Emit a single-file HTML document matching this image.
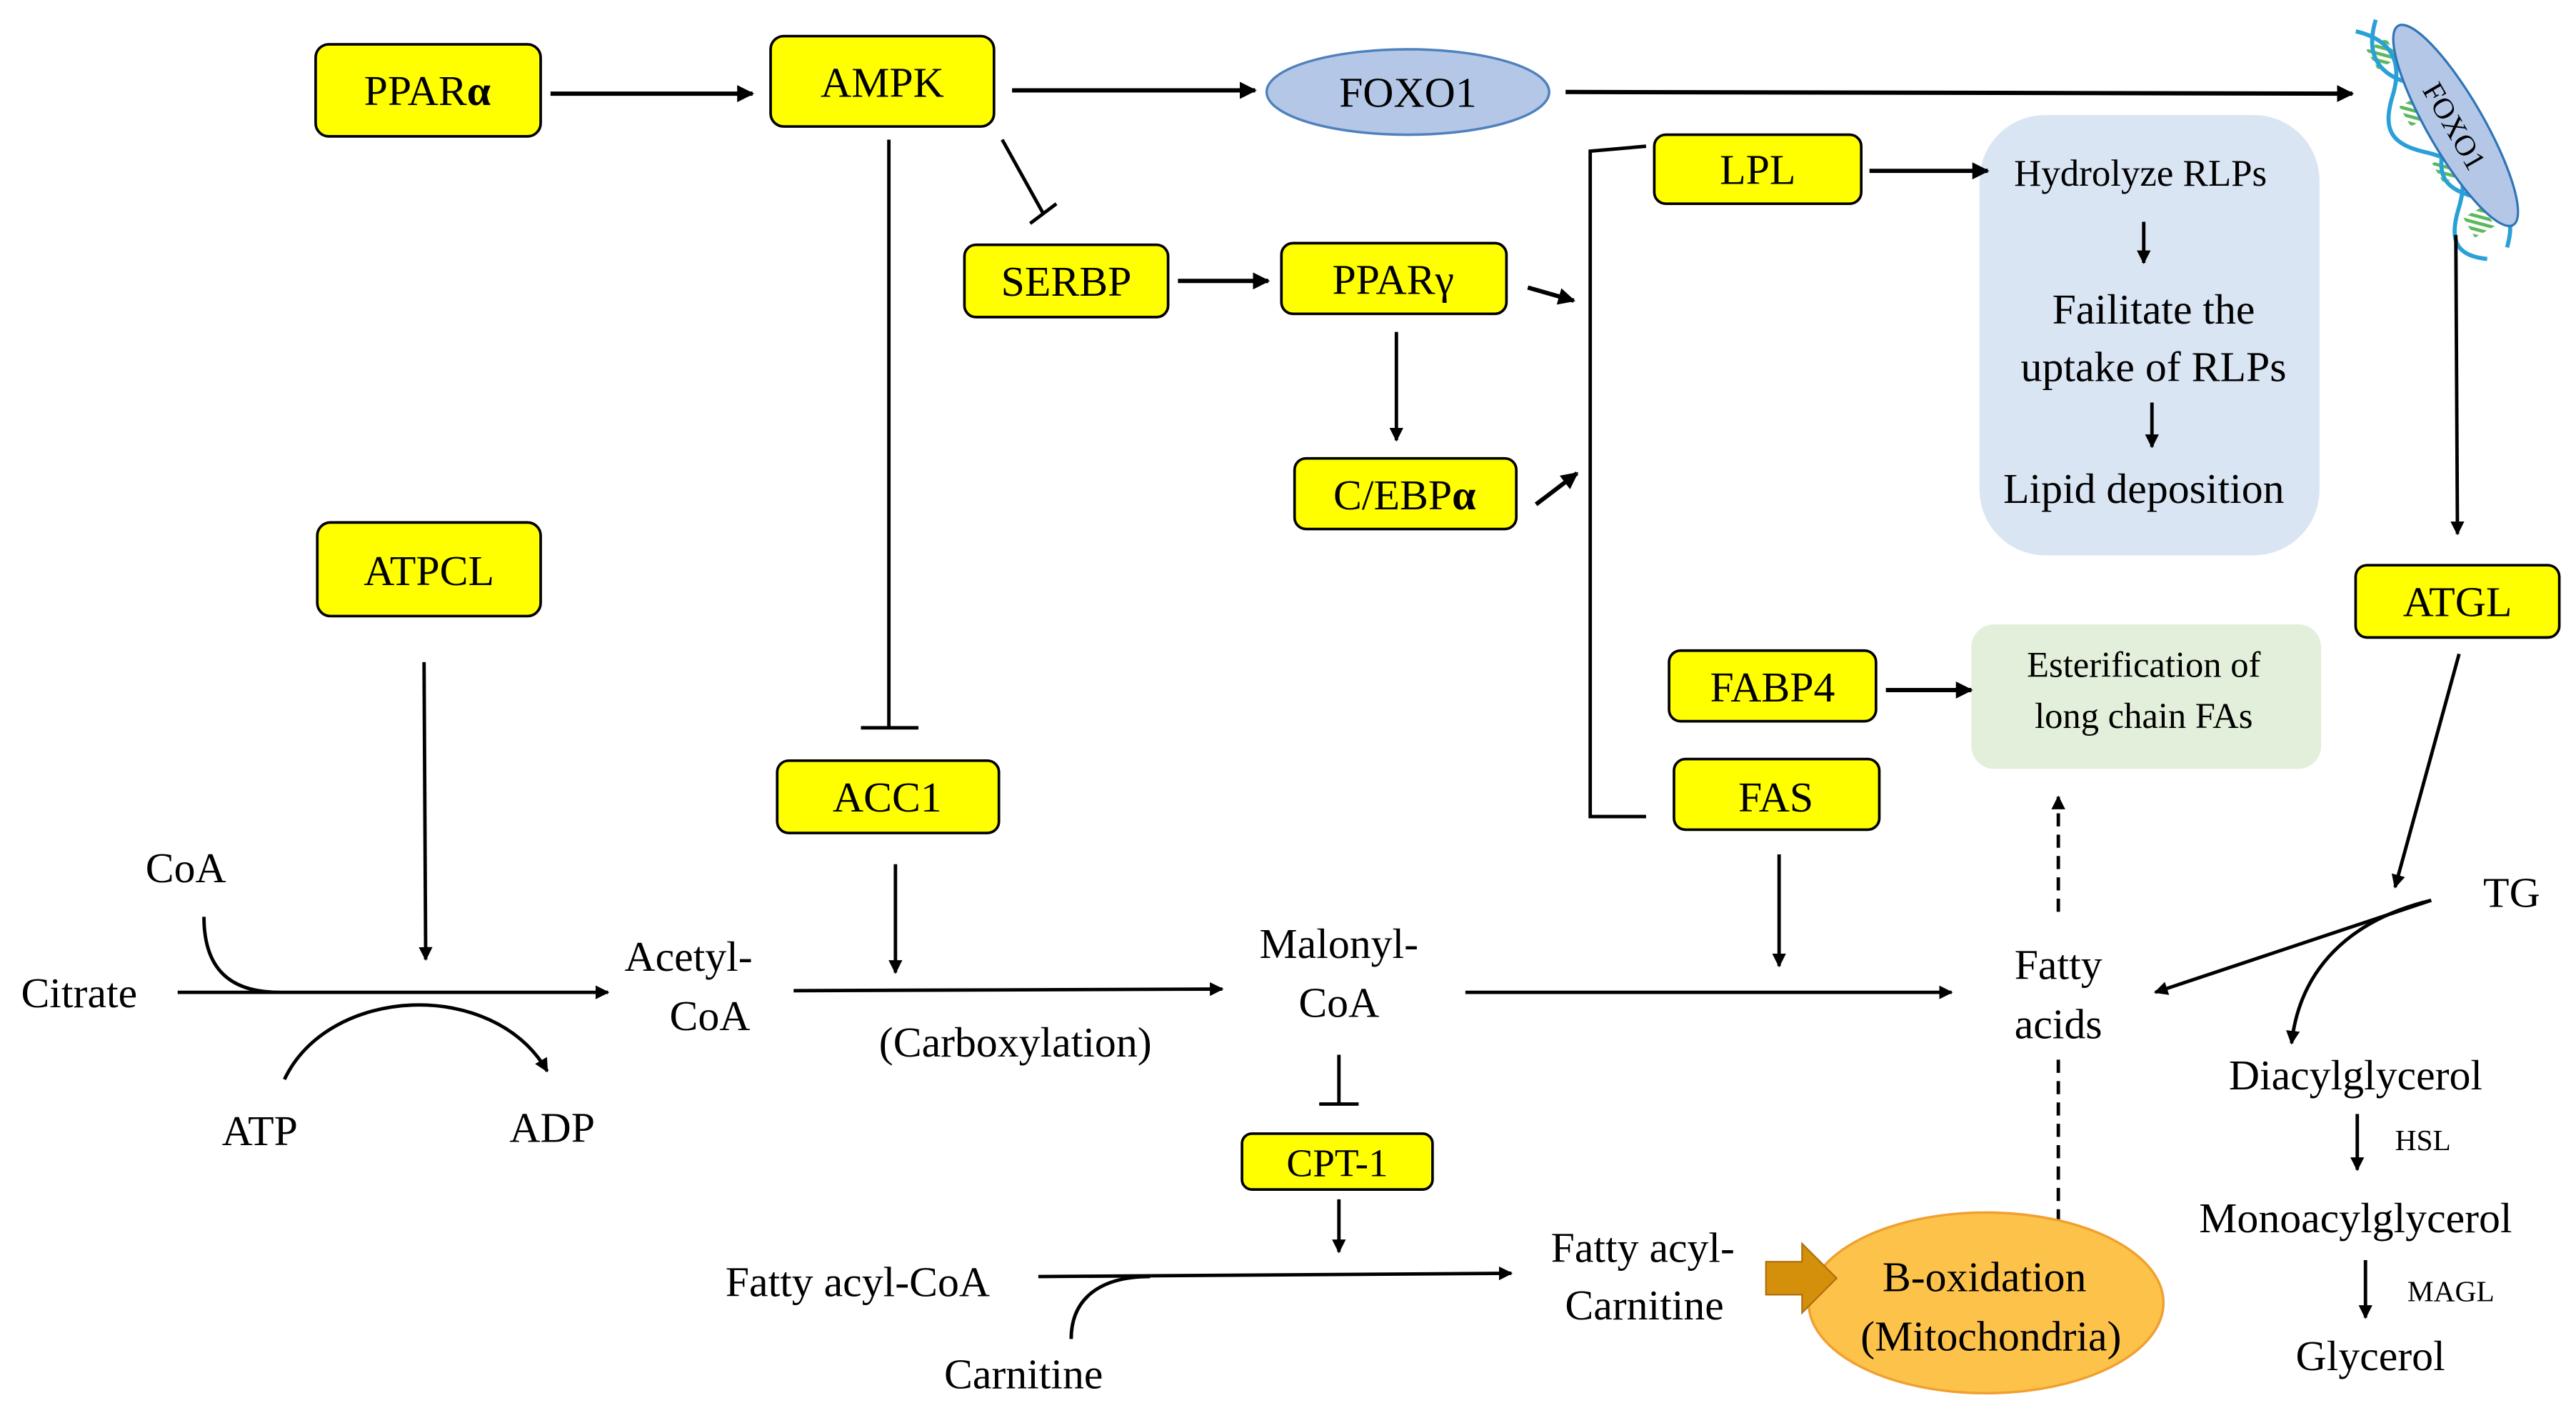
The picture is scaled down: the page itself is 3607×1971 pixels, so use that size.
<!DOCTYPE html>
<html><head><meta charset="utf-8"><style>html,body{margin:0;padding:0;background:#fff}svg{display:block}</style></head>
<body>
<svg width="3607" height="1971" viewBox="0 0 1568 857" xmlns="http://www.w3.org/2000/svg" font-family="'Liberation Serif', serif">
<defs>
<marker id="a" viewBox="0 0 10 10" refX="9" refY="5" markerWidth="4" markerHeight="4" orient="auto"><path d="M0,0 L10,5 L0,10 z" fill="#000"/></marker>
<pattern id="h" width="4" height="4" patternUnits="userSpaceOnUse" patternTransform="rotate(45)"><rect width="4" height="4" fill="#fff"/><rect width="2" height="4" fill="#5cb85c"/></pattern>
</defs>
<rect x="1205" y="70" width="207" height="268" rx="40" fill="#dae5f3"/>
<rect x="1200" y="380" width="213" height="88" rx="14" fill="#e2efda"/>
<g fill="#ffff00" stroke="#000" stroke-width="1.6">
<rect x="192" y="27" width="137" height="56" rx="8"/>
<rect x="469" y="22" width="136" height="55" rx="8"/>
<rect x="587" y="149" width="124" height="44" rx="7"/>
<rect x="780" y="148" width="137" height="43" rx="7"/>
<rect x="788" y="279" width="135" height="43" rx="7"/>
<rect x="1007" y="82" width="126" height="42" rx="7"/>
<rect x="1016" y="396" width="126" height="43" rx="7"/>
<rect x="1019" y="462" width="125" height="43" rx="7"/>
<rect x="193" y="318" width="136" height="57" rx="8"/>
<rect x="473" y="463" width="135" height="44" rx="7"/>
<rect x="1434" y="344" width="124" height="44" rx="7"/>
<rect x="756" y="690" width="116" height="34" rx="6"/>
</g>
<ellipse cx="857" cy="56" rx="86" ry="26" fill="#b4c7e7" stroke="#4f81bd" stroke-width="1.5"/>
<g transform="translate(1482,78) rotate(60)">
<rect x="-62" y="-2" width="14" height="14" fill="url(#h)"/>
<rect x="-22" y="-2" width="14" height="14" fill="url(#h)"/>
<rect x="18" y="-2" width="14" height="14" fill="url(#h)"/>
<rect x="56" y="-2" width="14" height="14" fill="url(#h)"/>
<path d="M-75,-2 C-60,14 -45,14 -30,-2 S-5,-18 10,-2 S35,14 50,-2 S75,-12 85,-2" fill="none" stroke="#2aa0d8" stroke-width="2.5"/>
<path d="M-75,12 C-60,-4 -45,-4 -30,12 S-5,28 10,12 S35,-4 50,12 S75,26 85,12" fill="none" stroke="#2aa0d8" stroke-width="2.5"/>
<ellipse cx="5" cy="-12" rx="70" ry="17" fill="#b4c7e7" stroke="#2e75b6" stroke-width="1.4"/>
<text x="5" y="-5" font-size="18" text-anchor="middle">FOXO1</text>
</g>
<g stroke="#000" stroke-width="2.6" fill="none" marker-end="url(#a)">
<line x1="335" y1="57" x2="458" y2="57"/>
<line x1="616" y1="55" x2="764" y2="55"/>
<line x1="953" y1="56" x2="1432" y2="57"/>
<line x1="717" y1="171" x2="772" y2="171"/>
<line x1="930" y1="175" x2="958" y2="183"/>
<line x1="935" y1="307" x2="960" y2="288"/>
<line x1="1138" y1="104" x2="1210" y2="104"/>
<line x1="1148" y1="420" x2="1200" y2="420"/>
</g>
<g stroke="#000" stroke-width="2.1" fill="none" marker-end="url(#a)">
<line x1="850" y1="202" x2="850" y2="268"/>
<line x1="1305" y1="135" x2="1305" y2="160"/>
<line x1="1310" y1="245" x2="1310" y2="272"/>
<line x1="1495" y1="143" x2="1496" y2="325"/>
<line x1="1497" y1="398" x2="1458" y2="540"/>
<line x1="108" y1="604" x2="370" y2="604"/>
<line x1="258" y1="403" x2="259" y2="584"/>
<path d="M173,657 C200,600 300,595 333,652"/>
<line x1="545" y1="526" x2="545" y2="592"/>
<line x1="483" y1="603" x2="744" y2="602"/>
<line x1="892" y1="604" x2="1188" y2="604"/>
<line x1="1083" y1="520" x2="1083" y2="588"/>
<line x1="1480" y1="548" x2="1312" y2="604"/>
<path d="M1480,548 C1430,560 1400,590 1395,635"/>
<line x1="815" y1="730" x2="815" y2="762"/>
<line x1="632" y1="777" x2="920" y2="775"/>
<line x1="1435" y1="678" x2="1435" y2="712"/>
<line x1="1440" y1="767" x2="1440" y2="802"/>
<line x1="1253" y1="555" x2="1253" y2="485" stroke-dasharray="8,5"/>
<line x1="1253" y1="645" x2="1253" y2="760" stroke-dasharray="8,5"/>
</g>
<g stroke="#000" stroke-width="2.1" fill="none">
<line x1="541" y1="85" x2="541" y2="443"/><line x1="524" y1="443" x2="559" y2="443"/>
<line x1="610" y1="85" x2="635" y2="130"/><line x1="627" y1="136" x2="643" y2="124"/>
<path d="M1002,89 L968,92 L968,497 L1002,497"/>
<path d="M124,558 C124,590 140,604 170,604"/>
<line x1="815" y1="642" x2="815" y2="672"/><line x1="803" y1="672" x2="827" y2="672"/>
<path d="M652,815 C652,790 670,777 700,777"/>
</g>
<ellipse cx="1209" cy="793" rx="108" ry="55" fill="#fdc24a" stroke="#f0a030" stroke-width="1.5"/>
<path d="M1075,768 L1097,768 L1097,757 L1118,778 L1097,799 L1097,788 L1075,788 z" fill="#d4900a" stroke="#b07010" stroke-width="1"/>
<g font-size="26" text-anchor="middle">
<text x="260" y="64">PPAR<tspan font-weight="bold">α</tspan></text>
<text x="537" y="59">AMPK</text>
<text x="857" y="65">FOXO1</text>
<text x="649" y="180">SERBP</text>
<text x="848" y="179">PPARγ</text>
<text x="855" y="310">C/EBP<tspan font-weight="bold">α</tspan></text>
<text x="1070" y="112">LPL</text>
<text x="1079" y="427">FABP4</text>
<text x="1081" y="494">FAS</text>
<text x="261" y="356">ATPCL</text>
<text x="540" y="494">ACC1</text>
<text x="1496" y="375">ATGL</text>
<text x="814" y="716" font-size="24">CPT-1</text>
<text x="1303" y="113" font-size="23">Hydrolyze RLPs</text>
<text x="1311" y="197">Failitate the</text>
<text x="1311" y="232">uptake of RLPs</text>
<text x="1305" y="306">Lipid deposition</text>
<text x="1305" y="412" font-size="22">Esterification of</text>
<text x="1305" y="443" font-size="22">long chain FAs</text>
<text x="48" y="613">Citrate</text>
<text x="113" y="537">CoA</text>
<text x="158" y="697">ATP</text>
<text x="336" y="695">ADP</text>
<text x="419" y="591">Acetyl-</text>
<text x="432" y="627">CoA</text>
<text x="618" y="643">(Carboxylation)</text>
<text x="815" y="583">Malonyl-</text>
<text x="815" y="619">CoA</text>
<text x="1253" y="596">Fatty</text>
<text x="1253" y="632">acids</text>
<text x="1529" y="552">TG</text>
<text x="1434" y="663">Diacylglycerol</text>
<text x="1434" y="750">Monoacylglycerol</text>
<text x="1443" y="834">Glycerol</text>
<text x="522" y="789">Fatty acyl-CoA</text>
<text x="623" y="845">Carnitine</text>
<text x="1000" y="768">Fatty acyl-</text>
<text x="1001" y="803">Carnitine</text>
<text x="1208" y="786">B-oxidation</text>
<text x="1212" y="822">(Mitochondria)</text>
<text x="1475" y="700" font-size="18">HSL</text>
<text x="1492" y="792" font-size="18">MAGL</text>
</g>
</svg>
</body></html>
